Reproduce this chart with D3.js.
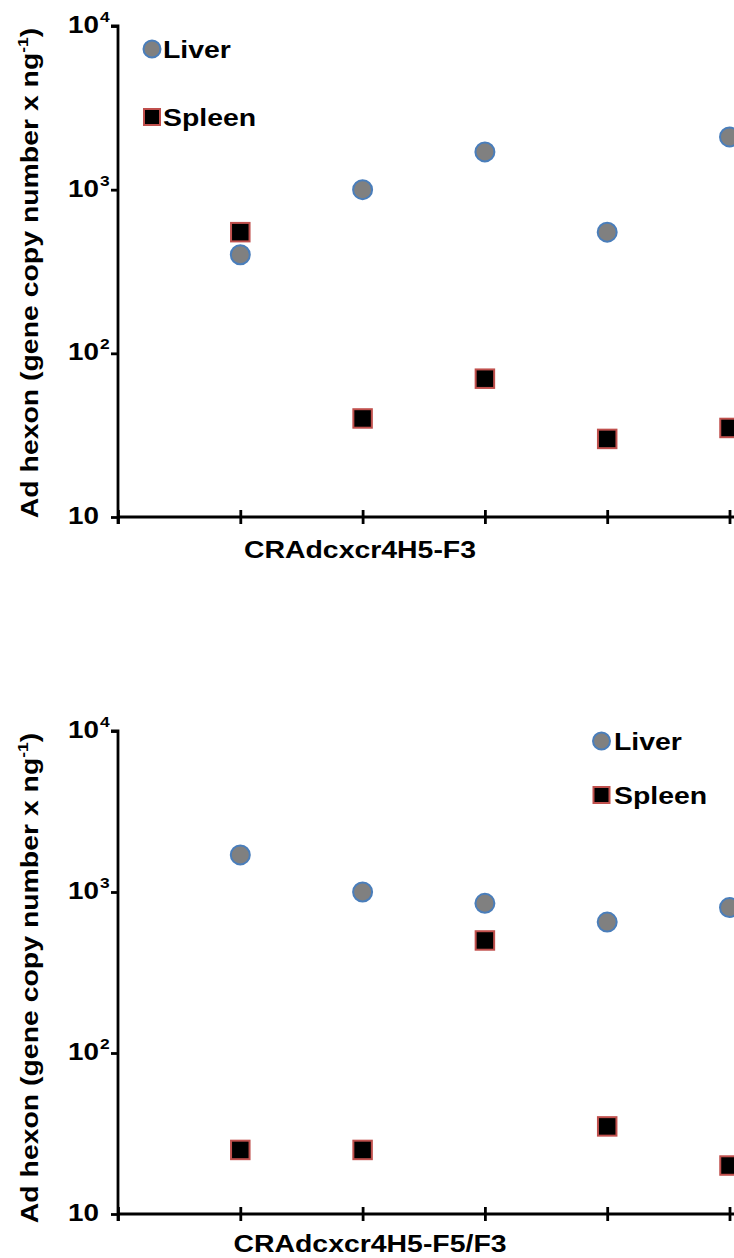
<!DOCTYPE html>
<html>
<head>
<meta charset="utf-8">
<script src="https://cdn.jsdelivr.net/npm/d3@7"></script>
<style>
  html, body { margin: 0; padding: 0; background: #fff; }
  svg { display: block; font-family: "Liberation Sans", Arial, sans-serif; }
</style>
</head>
<body>
<svg id="chart" width="734" height="1258"></svg>
<script>
// Animal index along the x axis (1..5)
const animals = [1, 2, 3, 4, 5];

// Panel A: CRAdcxcr4H5-F3
const liverF3 = [400, 1000, 1700, 550, 2100];
const spleenF3 = [550, 40, 70, 30, 35];

// Panel B: CRAdcxcr4H5-F5/F3
const liverF5F3 = [1700, 1000, 850, 650, 800];
const spleenF5F3 = [25, 25, 500, 35, 20];

const yTickValues = [10, 100, 1000, 10000];
const yTickExps = ["", "2", "3", "4"];
const xTickValues = [0, 1, 2, 3, 4, 5, 6];

const panelTitles = ["CRAdcxcr4H5-F3", "CRAdcxcr4H5-F5/F3"];
const yTitle = "Ad hexon (gene copy number x ng";

const panels = [
  { liver: liverF3, spleen: spleenF3, title: panelTitles[0], top: 26, bottom: 517,
    titleX: 360, titleY: 558, yTitleY: 273, legend: { x: 152, y1: 49, y2: 117, tx: 163 } },
  { liver: liverF5F3, spleen: spleenF5F3, title: panelTitles[1], top: 731, bottom: 1214,
    titleX: 370, titleY: 1252, yTitleY: 978, legend: { x: 601.5, y1: 741, y2: 795, tx: 614 } }
];

const svg = d3.select("#chart");
const x = d3.scaleLinear().domain([0, 6]).range([118, 118 + 6 * 122.3]);

const liverFill = "#808080", liverStroke = "#4a7ebb";
const spleenFill = "#000000", spleenStroke = "#c0504d";
const axisWidth = 2.8;
const stretch = 1.16; // wide bold lettering
const textStyle = sel => sel.attr("font-size", 24.5).attr("font-weight", "bold");

panels.forEach(p => {
  const g = svg.append("g");
  const y = d3.scaleLog().domain([10, 10000]).range([p.bottom, p.top]);

  // y axis
  const yAxis = g.append("g")
    .attr("transform", `translate(${x(0)},0)`)
    .call(d3.axisLeft(y).tickValues(yTickValues).tickSize(7).tickSizeOuter(0).tickFormat(""));
  yAxis.select(".domain").attr("stroke", "#000").attr("stroke-width", axisWidth)
    .attr("d", `M-7,${p.top}H0V${p.bottom + 7}`);
  yAxis.selectAll(".tick line").attr("stroke", "#000").attr("stroke-width", axisWidth);

  // y tick labels with superscript exponents
  yTickValues.forEach((v, i) => {
    g.append("text")
      .attr("transform", `translate(99,${y(v) + 7}) scale(${stretch},1)`)
      .attr("text-anchor", "end")
      .attr("font-size", 24)
      .attr("font-weight", "bold")
      .text("10");
    if (yTickExps[i]) {
      g.append("text")
        .attr("transform", `translate(100,${y(v) - 4}) scale(${stretch},1)`)
        .attr("font-size", 15)
        .attr("font-weight", "bold")
        .text(yTickExps[i]);
    }
  });

  // x axis
  const xAxis = g.append("g")
    .attr("transform", `translate(0,${p.bottom})`)
    .call(d3.axisBottom(x).tickValues(xTickValues).tickSize(7).tickSizeOuter(0).tickFormat(""));
  xAxis.select(".domain").attr("stroke", "#000").attr("stroke-width", axisWidth)
    .attr("d", `M${x(0)},0H${x(6)}`);
  xAxis.selectAll(".tick line").attr("stroke", "#000").attr("stroke-width", axisWidth)
    .attr("y1", -7).attr("y2", 7);

  // x axis title
  g.append("text")
    .attr("transform", `translate(${p.titleX},${p.titleY}) scale(${stretch},1)`)
    .attr("text-anchor", "middle")
    .call(textStyle)
    .text(p.title);

  // y axis title
  const yt = g.append("text")
    .attr("transform", `translate(38,${p.yTitleY}) rotate(-90) scale(${stretch},1)`)
    .attr("text-anchor", "middle")
    .call(textStyle);
  yt.append("tspan").text(yTitle);
  yt.append("tspan").attr("font-size", 15).attr("dy", -10).text("-1");
  yt.append("tspan").attr("dy", 10).text(")");

  // liver points
  g.selectAll("circle.liver").data(p.liver).join("circle")
    .attr("class", "liver")
    .attr("cx", (d, i) => x(animals[i]))
    .attr("cy", d => y(d))
    .attr("r", 9.5)
    .attr("fill", liverFill)
    .attr("stroke", liverStroke)
    .attr("stroke-width", 2);

  // spleen points
  const s = 18.5;
  g.selectAll("rect.spleen").data(p.spleen).join("rect")
    .attr("class", "spleen")
    .attr("x", (d, i) => x(animals[i]) - s / 2)
    .attr("y", d => y(d) - s / 2)
    .attr("width", s)
    .attr("height", s)
    .attr("fill", spleenFill)
    .attr("stroke", spleenStroke)
    .attr("stroke-width", 2);

  // legend
  const L = p.legend;
  g.append("circle").attr("cx", L.x).attr("cy", L.y1).attr("r", 8.5)
    .attr("fill", liverFill).attr("stroke", liverStroke).attr("stroke-width", 2);
  g.append("text").attr("transform", `translate(${L.tx},${L.y1 + 9}) scale(${stretch},1)`)
    .call(textStyle).text("Liver");
  g.append("rect").attr("x", L.x - 8).attr("y", L.y2 - 8).attr("width", 16).attr("height", 16)
    .attr("fill", spleenFill).attr("stroke", spleenStroke).attr("stroke-width", 2);
  g.append("text").attr("transform", `translate(${L.tx},${L.y2 + 9}) scale(${stretch},1)`)
    .call(textStyle).text("Spleen");
});
</script>
</body>
</html>
